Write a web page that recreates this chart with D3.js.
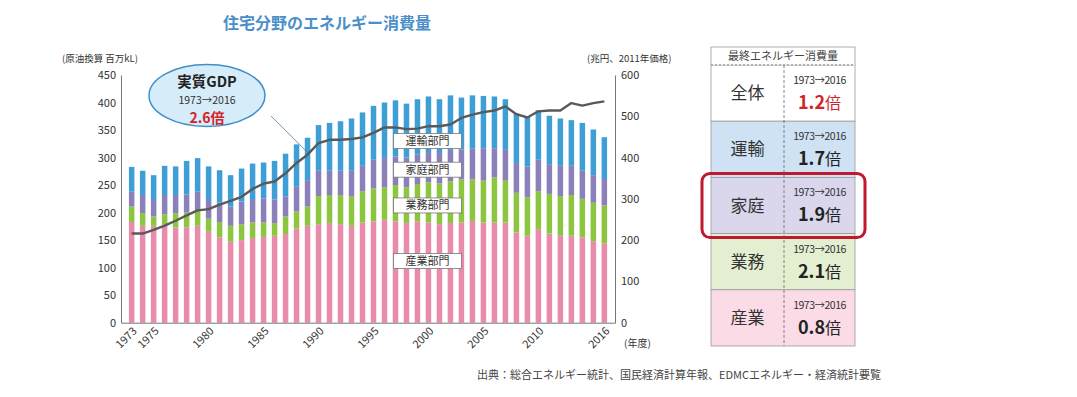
<!DOCTYPE html>
<html>
<head>
<meta charset="utf-8">
<script src="https://cdn.jsdelivr.net/npm/d3@7"></script>
<style>
  body { margin: 0; background: #fff; }
  svg text { font-family: "Noto Sans CJK JP", "Noto Sans", sans-serif; }
</style>
</head>
<body>
<svg id="chart" width="1077" height="397"></svg>
<script>
// years 1973..2016
const years = d3.range(1973, 2017);
// final energy consumption by sector (million kL crude-oil equivalent)
const industry    = [183,176,176,179,173,173,176,165,155,147,150,154,156,158,161,171,176,179,181,179,176,182,184,187,184,181,184,182,179,181,182,185,182,182,182,164,158,170,162,158,158,155,148,144];
const commercial  = [ 28, 23, 17, 18, 26, 27, 27, 24, 28, 29, 29, 28, 26, 23, 32, 31, 35, 51, 51, 53, 53, 57, 60, 59, 66, 65, 68, 73, 74, 76, 78, 75, 76, 82, 76, 72, 70, 69, 72, 72, 74, 70, 70, 69];
const residential = [ 27, 33, 30, 35, 33, 33, 35, 34, 35, 35, 41, 41, 44, 43, 36, 45, 48, 46, 44, 44, 47, 46, 52, 53, 52, 54, 54, 55, 57, 57, 55, 56, 59, 53, 56, 54, 56, 57, 54, 55, 53, 51, 50, 48];
const transport   = [ 45, 44, 45, 53, 52, 61, 61, 61, 59, 57, 60, 66, 65, 70, 78, 77, 77, 83, 87, 90, 95, 97, 98,101,102, 98,100,101, 96, 99, 94, 97, 95, 94, 92, 90, 90, 90, 88, 86, 83, 87, 83, 76];
// real GDP (trillion yen, 2011 prices)
const gdp = [216,216,225,235,247,260,272,275,286,295,305,324,337,342,362,387,407,435,443,443,445,449,460,473,473,469,470,476,476,480,496,504,510,514,524,505,497,512,514,514,532,526,532,536];

const sectorKeys   = ["industry", "commercial", "residential", "transport"];
const sectorColors = ["#e98bab", "#8cc53f", "#8b80ba", "#3d9fd6"];
const sectorNames  = ["産業部門", "業務部門", "家庭部門", "運輸部門"];

const leftTicks  = d3.range(0, 451, 50);
const rightTicks = d3.range(0, 601, 100);
const xTickYears = [1973, 1975, 1980, 1985, 1990, 1995, 2000, 2005, 2010, 2016];

// side table
const tableRows   = ["全体", "運輸", "家庭", "業務", "産業"];
const tableRatios = ["1.2", "1.7", "1.9", "2.1", "0.8"];
const tableFills  = ["#ffffff", "#cfe2f4", "#dad7ec", "#e3efd0", "#fadbe6"];

const svg = d3.select("#chart");

// build the stacked table from the arrays
const rows = years.map((yr, i) => ({
  year: yr, industry: industry[i], commercial: commercial[i],
  residential: residential[i], transport: transport[i]
}));
const stacked = d3.stack().keys(sectorKeys)(rows);

const x = d3.scaleBand().domain(years).range([121, 615]).paddingInner(0.5).paddingOuter(0.72);
const yL = d3.scaleLinear().domain([0, 450]).range([322.7, 75]);
const yR = d3.scaleLinear().domain([0, 600]).range([322.7, 75]);

// title
svg.append("text").attr("x", 327).attr("y", 29).attr("text-anchor", "middle")
  .attr("font-size", 16).attr("font-weight", "bold").attr("fill", "#4b8fca")
  .text("住宅分野のエネルギー消費量");

// unit labels
svg.append("text").attr("x", 62).attr("y", 62).attr("font-size", 9.5).attr("fill", "#333")
  .text("(原油換算 百万kL)");
svg.append("text").attr("x", 587).attr("y", 62).attr("font-size", 9.5).attr("fill", "#333")
  .text("(兆円、2011年価格)");

// bars
svg.append("g").selectAll("g").data(stacked).join("g")
  .attr("fill", (d, i) => sectorColors[i])
  .selectAll("rect").data(d => d).join("rect")
  .attr("x", d => x(d.data.year))
  .attr("width", x.bandwidth())
  .attr("y", d => yL(d[1]))
  .attr("height", d => yL(d[0]) - yL(d[1]));

// GDP line
const line = d3.line().x((d, i) => x(years[i]) + x.bandwidth() / 2).y(d => yR(d));
svg.append("path").datum(gdp).attr("d", line)
  .attr("fill", "none").attr("stroke", "#595959").attr("stroke-width", 2.4)
  .attr("stroke-linejoin", "round");

// axes
const axL = svg.append("g").attr("transform", "translate(121,0)")
  .call(d3.axisLeft(yL).tickValues(leftTicks).tickSize(0).tickPadding(5));
const axR = svg.append("g").attr("transform", "translate(615,0)")
  .call(d3.axisRight(yR).tickValues(rightTicks).tickSize(0).tickPadding(6));
const axB = svg.append("g").attr("transform", "translate(0,322.7)")
  .call(d3.axisBottom(x).tickValues(xTickYears).tickSize(0).tickPadding(4));
[axL, axR, axB].forEach(a => {
  a.select(".domain").attr("stroke", "#777").attr("stroke-width", 1);
  a.selectAll("text").attr("font-size", 11).attr("fill", "#333")
    .attr("font-family", "\"Noto Sans CJK JP\", sans-serif");
});
axB.selectAll("text")
  .attr("text-anchor", "end")
  .attr("transform", "rotate(-45)")
  .attr("dx", "-0.2em").attr("dy", "0.6em");
svg.append("text").attr("x", 624).attr("y", 347).attr("font-size", 10).attr("fill", "#333")
  .text("(年度)");

// sector label boxes
const labelY = [112, 213, 278, 330];
const boxCx = x(2000) + x.bandwidth() / 2 - 1;
sectorNames.forEach((name, i) => {
  const cy = yL(labelY[i]);
  svg.append("rect").attr("x", boxCx - 34).attr("y", cy - 7.5).attr("width", 68).attr("height", 15)
    .attr("fill", "#fff").attr("stroke", "#777").attr("stroke-width", 0.8);
  svg.append("text").attr("x", boxCx).attr("y", cy + 4).attr("text-anchor", "middle")
    .attr("font-size", 11).attr("fill", "#333").text(name);
});

// GDP balloon
const bx = 207, by = 95.5;
svg.append("line").attr("x1", 271).attr("y1", 116).attr("x2", x(1989) + 3).attr("y2", yR(412))
  .attr("stroke", "#4a7fa8").attr("stroke-width", 0.8);
svg.append("ellipse").attr("cx", bx).attr("cy", by).attr("rx", 58).attr("ry", 31)
  .attr("fill", "#d6ecf9").attr("stroke", "#3f8fc9").attr("stroke-width", 1.5);
svg.append("text").attr("x", bx).attr("y", by - 9).attr("text-anchor", "middle")
  .attr("font-size", 14.5).attr("font-weight", "bold").attr("fill", "#222").text("実質GDP");
svg.append("text").attr("x", bx).attr("y", by + 8).attr("text-anchor", "middle")
  .attr("font-size", 10.5).attr("fill", "#333").text("1973→2016");
svg.append("text").attr("x", bx).attr("y", by + 27.5).attr("text-anchor", "middle")
  .attr("font-size", 14).attr("font-weight", "bold").attr("fill", "#d2232a").text("2.6倍");

// right-hand table
const tL = 711, tR = 855, tMid = 784, tTop = 47, hdrB = 65, rowH = 56.2;
tableRows.forEach((name, i) => {
  const top = hdrB + i * rowH;
  svg.append("rect").attr("x", tL).attr("y", top).attr("width", tR - tL).attr("height", rowH)
    .attr("fill", tableFills[i]).attr("stroke", "#9a9a9a").attr("stroke-width", 0.8);
  svg.append("text").attr("x", (tL + tMid) / 2).attr("y", top + rowH / 2 + 6).attr("text-anchor", "middle")
    .attr("font-size", 17).attr("fill", "#333").text(name);
  svg.append("text").attr("x", (tMid + tR) / 2).attr("y", top + 19).attr("text-anchor", "middle")
    .attr("font-size", 10.5).attr("fill", "#333").attr("letter-spacing", "-0.5px").text("1973→2016");
  const t = svg.append("text").attr("x", (tMid + tR) / 2).attr("y", top + 44).attr("text-anchor", "middle")
    .attr("fill", i === 0 ? "#d2232a" : "#222");
  t.append("tspan").attr("font-size", 18).attr("font-weight", "bold").text(tableRatios[i]);
  t.append("tspan").attr("font-size", 16).text("倍");
});
svg.append("rect").attr("x", tL).attr("y", tTop).attr("width", tR - tL).attr("height", hdrB - tTop)
  .attr("fill", "#fff").attr("stroke", "#9a9a9a").attr("stroke-width", 0.8);
svg.append("line").attr("x1", tL).attr("x2", tR).attr("y1", hdrB).attr("y2", hdrB)
  .attr("stroke", "#fff").attr("stroke-width", 1.2);
svg.append("line").attr("x1", tL).attr("x2", tR).attr("y1", hdrB).attr("y2", hdrB)
  .attr("stroke", "#666").attr("stroke-width", 0.8).attr("stroke-dasharray", "2,2");
svg.append("text").attr("x", (tL + tR) / 2).attr("y", 60).attr("text-anchor", "middle")
  .attr("font-size", 11).attr("fill", "#444").text("最終エネルギー消費量");
svg.append("line").attr("x1", tMid).attr("x2", tMid).attr("y1", hdrB).attr("y2", hdrB + 5 * rowH)
  .attr("stroke", "#666").attr("stroke-width", 0.8).attr("stroke-dasharray", "3,2");
// highlight round the 家庭 row
svg.append("rect").attr("x", 702).attr("y", hdrB + 2 * rowH - 4).attr("width", 163).attr("height", rowH + 8)
  .attr("rx", 8).attr("fill", "none").attr("stroke", "#c0182f").attr("stroke-width", 3);

// source
svg.append("text").attr("x", 477).attr("y", 379).attr("font-size", 11).attr("fill", "#444")
  .text("出典：総合エネルギー統計、国民経済計算年報、EDMCエネルギー・経済統計要覧");
</script>
</body>
</html>
